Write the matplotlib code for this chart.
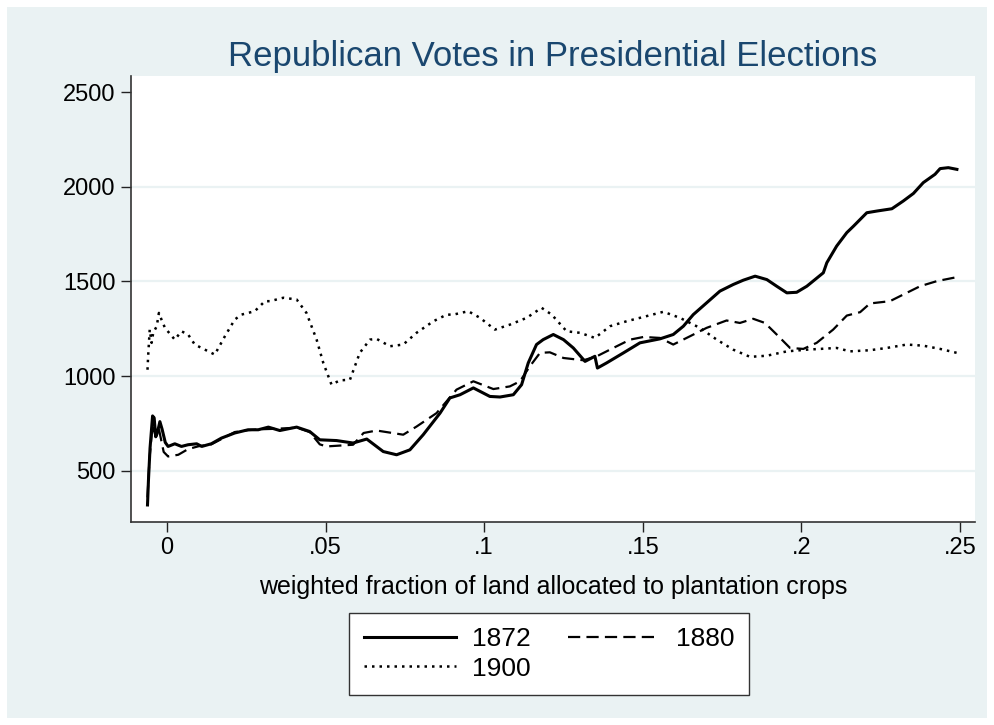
import matplotlib
matplotlib.use("Agg")
import matplotlib.pyplot as plt
from matplotlib.patches import Rectangle

plt.rcParams['font.family'] = ['Liberation Sans', 'DejaVu Sans']

# smoothed republican vote, by weighted plantation share
x_1872 = [-0.0061, -0.0058, -0.0053, -0.0045, -0.0040, -0.0035, -0.0030, -0.0022, -0.0015, -0.0005,
          0.0004, 0.0025, 0.0046, 0.0067, 0.0094, 0.0110, 0.0140, 0.0172, 0.0214, 0.0256, 0.0288,
          0.0320, 0.0356, 0.0409, 0.0450, 0.0482, 0.0535, 0.0587, 0.0630, 0.0682, 0.0724, 0.0766,
          0.0808, 0.0861, 0.0892, 0.0924, 0.0966, 0.1018, 0.1050, 0.1092, 0.1118, 0.1139, 0.1165,
          0.1186, 0.1218, 0.1250, 0.1281, 0.1318, 0.1349, 0.1357, 0.1386, 0.1439, 0.1491, 0.1554,
          0.1596, 0.1628, 0.1659, 0.1701, 0.1743, 0.1785, 0.1817, 0.1854, 0.1891, 0.1922, 0.1954,
          0.1985, 0.2017, 0.2069, 0.2080, 0.2111, 0.2143, 0.2164, 0.2206, 0.2238, 0.2285, 0.2321,
          0.2353, 0.2384, 0.2421, 0.2437, 0.2463, 0.2490]
y_1872 = [320, 450, 620, 790, 780, 680, 700, 760, 720, 650,
          629, 643, 629, 638, 643, 629, 643, 673, 700, 717, 717,
          731, 713, 731, 708, 664, 660, 647, 668, 602, 585, 611,
          691, 805, 885, 902, 938, 893, 890, 902, 955, 1070, 1167,
          1193, 1220, 1193, 1149, 1078, 1105, 1043, 1070, 1123, 1176, 1197,
          1220, 1264, 1325, 1387, 1449, 1484, 1507, 1528, 1510, 1475, 1440,
          1443, 1475, 1546, 1599, 1687, 1758, 1792, 1863, 1872, 1884, 1925,
          1965, 2022, 2066, 2096, 2101, 2092]

x_1880 = [-0.0061, -0.0055, -0.0045, -0.0035, -0.0025, -0.0010, 0.0004, 0.0036, 0.0067, 0.0100,
          0.0140, 0.0172, 0.0214, 0.0256, 0.0300, 0.0340, 0.0410, 0.0450, 0.0482, 0.0503, 0.0587,
          0.0620, 0.0661, 0.0745, 0.0787, 0.0850, 0.0913, 0.0966, 0.1029, 0.1081, 0.1113, 0.1144,
          0.1176, 0.1207, 0.1250, 0.1313, 0.1355, 0.1407, 0.1460, 0.1502, 0.1554, 0.1596, 0.1649,
          0.1701, 0.1764, 0.1806, 0.1848, 0.1885, 0.1922, 0.1964, 0.2006, 0.2048, 0.2100, 0.2143,
          0.2185, 0.2216, 0.2279, 0.2321, 0.2374, 0.2427, 0.2490]
y_1880 = [360, 560, 740, 680, 720, 600, 576, 585, 615, 630,
          640, 668, 705, 715, 720, 722, 728, 705, 640, 629, 638,
          700, 713, 691, 734, 805, 929, 973, 932, 946, 973, 1052,
          1123, 1126, 1096, 1084, 1105, 1149, 1193, 1207, 1202, 1167, 1211,
          1255, 1294, 1281, 1303, 1281, 1220, 1149, 1144, 1176, 1246, 1320,
          1338, 1384, 1396, 1431, 1475, 1502, 1523]

x_1900 = [-0.0061, -0.0059, -0.0054, -0.0048, -0.0043, -0.0032, -0.0025, -0.0017, -0.0006, 0.0025,
          0.0046, 0.0067, 0.0088, 0.0120, 0.0151, 0.0183, 0.0214, 0.0235, 0.0277, 0.0309, 0.0325,
          0.0367, 0.0409, 0.0440, 0.0472, 0.0493, 0.0519, 0.0545, 0.0577, 0.0608, 0.0640, 0.0661,
          0.0703, 0.0745, 0.0787, 0.0840, 0.0882, 0.0903, 0.0950, 0.0987, 0.1034, 0.1081, 0.1134,
          0.1181, 0.1213, 0.1260, 0.1302, 0.1349, 0.1397, 0.1449, 0.1491, 0.1565, 0.1617, 0.1680,
          0.1733, 0.1785, 0.1838, 0.1891, 0.1954, 0.2017, 0.2059, 0.2111, 0.2153, 0.2216, 0.2269,
          0.2332, 0.2384, 0.2437, 0.2490]
y_1900 = [1034, 1105, 1246, 1176, 1229, 1263, 1334, 1299, 1255, 1193,
          1237, 1220, 1167, 1140, 1114, 1211, 1299, 1325, 1343, 1396, 1396,
          1414, 1405, 1334, 1193, 1070, 955, 978, 981, 1123, 1193, 1197,
          1158, 1167, 1229, 1290, 1325, 1325, 1343, 1308, 1246, 1272, 1308,
          1361, 1325, 1237, 1229, 1202, 1264, 1290, 1308, 1340, 1308, 1255,
          1193, 1140, 1102, 1108, 1131, 1140, 1144, 1149, 1131, 1137, 1149,
          1167, 1161, 1144, 1123]

xticks = [0, 0.05, 0.1, 0.15, 0.2, 0.25]
xtick_labels = ['0', '.05', '.1', '.15', '.2', '.25']
yticks = [500, 1000, 1500, 2000, 2500]

bg = '#EAF2F3'
fig = plt.figure(figsize=(9.94, 7.25), dpi=100, facecolor='white')
fig.patches.append(Rectangle((7 / 994, 7 / 725), 980 / 994, 711 / 725,
                             transform=fig.transFigure, facecolor=bg, edgecolor='none', zorder=-10))

ax = fig.add_axes([131 / 994, 1 - 522 / 725, 844 / 994, 446 / 725])
ax.set_facecolor('white')

for g in [500, 1000, 1500, 2000]:
    ax.axhline(g, color=bg, lw=1.6, zorder=1)

l1, = ax.plot(x_1872, y_1872, color='black', lw=2.2, ls='-', label='1872', zorder=3)
l2, = ax.plot(x_1880, y_1880, color='black', lw=1.6, ls=(0, (5.5, 2.8)), label='1880', zorder=3)
l3, = ax.plot(x_1900, y_1900, color='black', lw=1.8, ls=(0, (1, 2.0)), label='1900', zorder=3)

ax.set_xlim(-0.0113, 0.2547)
ax.set_ylim(230, 2585)
ax.set_xticks(xticks)
ax.set_xticklabels(xtick_labels)
ax.set_yticks(yticks)
ax.tick_params(axis='both', length=7, width=1, color='#222222', labelsize=17, pad=4)

for side in ['top', 'right']:
    ax.spines[side].set_visible(False)
for side in ['left', 'bottom']:
    ax.spines[side].set_color('#333333')
    ax.spines[side].set_linewidth(1.2)

ax.set_xlabel('weighted fraction of land allocated to plantation crops', fontsize=18, labelpad=11)
ax.set_title('Republican Votes in Presidential Elections', fontsize=25, color='#1A476F', pad=7)

leg = fig.legend(handles=[l1, l3, l2], labels=['1872', '1900', '1880'], ncol=2,
                 loc='center', bbox_to_anchor=(549 / 994, 1 - 654 / 725),
                 fontsize=19, handlelength=3.5, frameon=True, fancybox=False,
                 edgecolor='#333333', facecolor='white', framealpha=1,
                 borderpad=0.55, columnspacing=1.4, labelspacing=0.2, handletextpad=0.6)
leg.get_frame().set_linewidth(1.0)

fig.savefig('out.png', dpi=100, facecolor=fig.get_facecolor())
